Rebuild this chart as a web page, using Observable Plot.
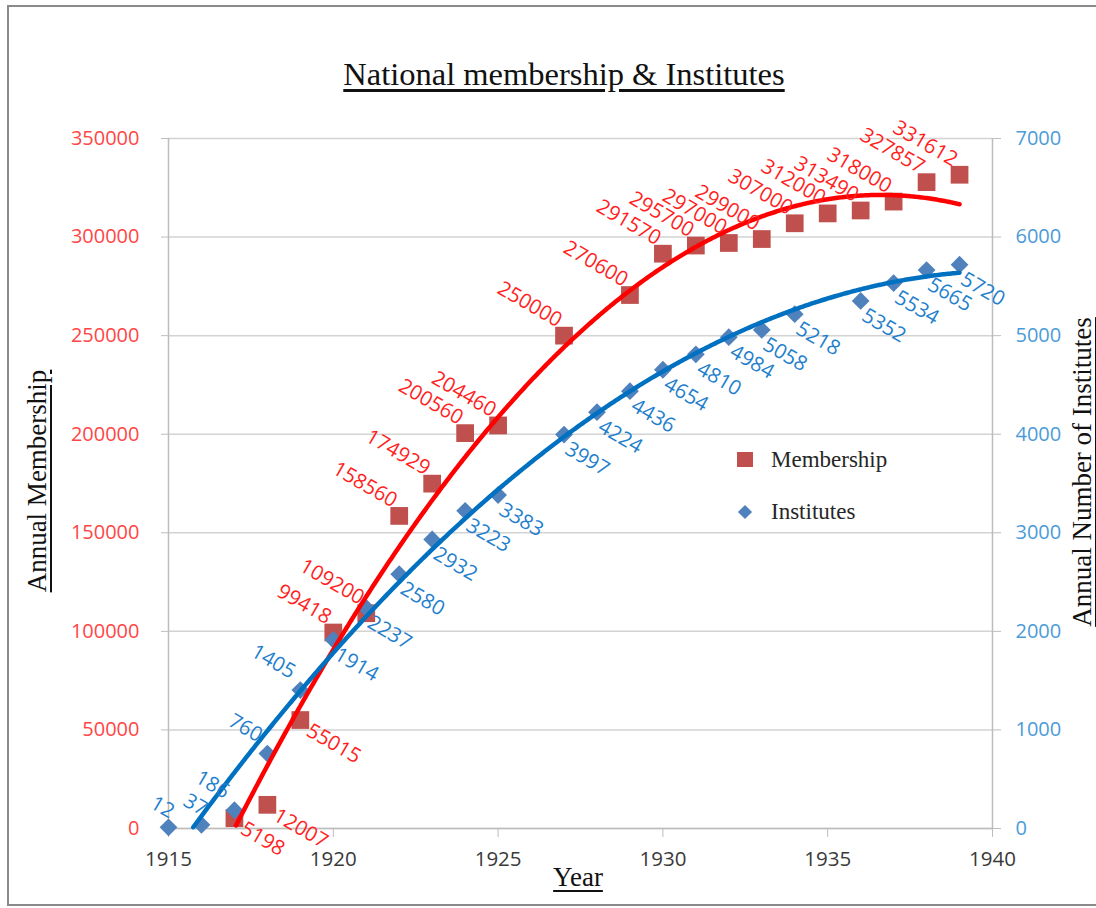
<!DOCTYPE html>
<html>
<head>
<meta charset="utf-8">
<script src="https://cdn.jsdelivr.net/npm/d3@7"></script>
<script src="https://cdn.jsdelivr.net/npm/@observablehq/plot@0.6"></script>
<style>
  body { margin: 0; background: #fff; }
  #wrap { position: relative; width: 1096px; height: 908px; overflow: hidden; background: #fff; }
  #frame { position: absolute; left: 7px; top: 5px; width: 1100px; height: 901px; box-sizing: border-box;
           border: 2px solid #8a8a8a; border-right: none; pointer-events: none; }
  #title { height: 100px; position: relative; font-family: "Liberation Serif", "Times New Roman", serif; }
  #title span { position: absolute; left: 564px; top: 54px; transform: translateX(-50%); font-size: 32.5px;
                white-space: nowrap; color: #111; text-decoration: underline; text-underline-offset: 4px; line-height: 40px; }
  .axtitle { position: absolute; font-family: "Liberation Serif", "Times New Roman", serif; font-size: 27px; color: #111;
             white-space: nowrap; text-decoration: underline; text-underline-offset: 4px; line-height: 32px; }
  .legend { position: absolute; font-family: "Liberation Serif", "Times New Roman", serif; font-size: 23px; color: #262626;
            white-space: nowrap; line-height: 28px; }
  .sym { position: absolute; }
</style>
</head>
<body>
<div id="wrap">
  <div id="title"><span>National membership &amp; Institutes</span></div>
  <div id="chart"></div>
  <div class="axtitle" id="ylab" style="left:37px; top:481px; transform: translate(-50%,-50%) rotate(-90deg);">Annual Membership</div>
  <div class="axtitle" id="ylab2" style="left:1082px; top:472px; transform: translate(-50%,-50%) rotate(-90deg);">Annual Number of Institutes</div>
  <div class="axtitle" id="xlab" style="left:578px; top:877px; transform: translate(-50%,-50%);">Year</div>
  <div class="sym" style="left:737px; top:452px; width:16px; height:15px; background:#C0504D;"></div>
  <div class="legend" style="left:771px; top:446px;">Membership</div>
  <div class="sym" style="left:740px; top:507px; width:10px; height:10px; background:#4F81BD; transform: rotate(45deg);"></div>
  <div class="legend" style="left:771px; top:498px;">Institutes</div>
  <div id="frame"></div>
</div>
<script>
// ---- data ----
const membershipYears = [1917,1918,1919,1920,1921,1922,1923,1924,1925,1927,1929,1930,1931,1932,1933,1934,1935,1936,1937,1938,1939];
const membershipValues = [5198,12007,55015,99418,109200,158560,174929,200560,204460,250000,270600,291570,295700,297000,299000,307000,312000,313490,318000,327857,331612];
const instituteYears = [1915,1916,1917,1918,1919,1920,1921,1922,1923,1924,1925,1927,1928,1929,1930,1931,1932,1933,1934,1936,1937,1938,1939];
const instituteValues = [12,37,186,760,1405,1914,2237,2580,2932,3223,3383,3997,4224,4436,4654,4810,4984,5058,5218,5352,5534,5665,5720];
const xTicks = [1915,1920,1925,1930,1935,1940];
const leftTicks = [0,50000,100000,150000,200000,250000,300000,350000];
const rightTicks = [0,1000,2000,3000,4000,5000,6000,7000];

// ---- derived ----
const ratio = leftTicks[leftTicks.length-1] / rightTicks[rightTicks.length-1];
const mData = membershipYears.map((year, i) => ({year, value: membershipValues[i]}));
const iData = instituteYears.map((year, i) => ({year, value: instituteValues[i], scaled: instituteValues[i] * ratio}));

// quadratic least-squares trendline (Excel polynomial, order 2)
function quadFit(xs, ys) {
  const mx = d3.mean(xs);
  const u = xs.map(x => x - mx);
  const s = k => d3.sum(u, v => v ** k);
  const t = k => d3.sum(u, (v, i) => (v ** k) * ys[i]);
  const A = [[s(0), s(1), s(2)], [s(1), s(2), s(3)], [s(2), s(3), s(4)]];
  const B = [t(0), t(1), t(2)];
  const det = m => m[0][0]*(m[1][1]*m[2][2]-m[1][2]*m[2][1]) - m[0][1]*(m[1][0]*m[2][2]-m[1][2]*m[2][0]) + m[0][2]*(m[1][0]*m[2][1]-m[1][1]*m[2][0]);
  const D = det(A);
  const coef = [0,1,2].map(c => det(A.map((row, r) => row.map((v, j) => j === c ? B[r] : v))) / D);
  return x => coef[0] + coef[1]*(x - mx) + coef[2]*(x - mx)**2;
}
function trend(xs, ys, scale = 1) {
  const f = quadFit(xs, ys);
  const lo = d3.min(xs), hi = d3.max(xs);
  return d3.range(lo, hi + 1e-9, 0.05).map(x => ({x, y: f(x) * scale})).filter(d => d.y >= 0);
}
const mTrend = trend(membershipYears, membershipValues);
const iTrend = trend(instituteYears, instituteValues, ratio);

const fmt = d3.format("d");
const sans = "'Open Sans', 'Noto Sans', sans-serif";
const red = "#ff1f1f", blue = "#1f7fcc";
const lab = 20.5;

const chart = Plot.plot({
  width: 1096,
  height: 808,
  marginLeft: 168,
  marginRight: 104,
  marginTop: 38,
  marginBottom: 80,
  x: {domain: [1915, 1940]},
  y: {domain: [0, 350000]},
  style: {fontFamily: sans, fontSize: "20px", background: "transparent", overflow: "visible"},
  marks: [
    Plot.gridY(leftTicks, {stroke: "#d3d3d3", strokeOpacity: 1, strokeWidth: 1.5}),
    Plot.ruleX([1915, 1940], {stroke: "#bdbdbd", strokeWidth: 1.5}),
    Plot.ruleY([0], {stroke: "#bdbdbd", strokeWidth: 1.5}),
    Plot.axisY(leftTicks, {anchor: "left", tickSize: 7, tickPadding: 22, tickFormat: fmt, stroke: "#bdbdbd", fill: "#ff4646", label: null, fontSize: 20}),
    Plot.axisY(leftTicks, {anchor: "right", tickSize: 8, tickPadding: 15, tickFormat: d => fmt(d / ratio), stroke: "#bdbdbd", fill: "#4b9bd9", label: null, fontSize: 20}),
    Plot.axisX(xTicks, {tickSize: 9, tickPadding: 14, tickFormat: fmt, stroke: "#bdbdbd", fill: "#3a3a3a", label: null, fontSize: 20.5}),
    Plot.dot(mData, {x: "year", y: "value", symbol: "square", r: 10, fill: "#C0504D"}),
    Plot.dot(iData, {x: "year", y: "scaled", symbol: "diamond2", r: 8, fill: "#4F81BD"}),
    Plot.line(mTrend, {x: "x", y: "y", stroke: "#ff0000", strokeWidth: 4.5, curve: "linear"}),
    Plot.line(iTrend, {x: "x", y: "y", stroke: "#0070c0", strokeWidth: 4.5, curve: "linear"}),
    // membership labels
    Plot.text(mData.filter(d => d.year >= 1920), {x: "year", y: "value", text: d => String(d.value), rotate: 30,
      textAnchor: "end", lineAnchor: "bottom", dx: -7, dy: -8, fill: red, fontSize: lab}),
    Plot.text(mData.filter(d => d.year < 1920), {x: "year", y: "value", text: d => String(d.value), rotate: 30,
      textAnchor: "start", lineAnchor: "top", dx: 12, dy: 2, fill: red, fontSize: lab}),
    // institute labels
    Plot.text(iData.filter(d => d.year >= 1920), {x: "year", y: "scaled", text: d => String(d.value), rotate: 30,
      textAnchor: "start", lineAnchor: "top", dx: 7, dy: 6, fill: blue, fontSize: lab}),
    Plot.text(iData.filter(d => d.year >= 1917 && d.year < 1920), {x: "year", y: "scaled", text: d => String(d.value), rotate: 30,
      textAnchor: "end", lineAnchor: "bottom", dx: -10, dy: -11, fill: blue, fontSize: lab}),
    Plot.text(iData.filter(d => d.year < 1917), {x: "year", y: "scaled", text: d => String(d.value), rotate: 30,
      textAnchor: "middle", lineAnchor: "middle", dx: -6, dy: -20, fill: blue, fontSize: lab})
  ]
});
document.getElementById("chart").appendChild(chart);
</script>
</body>
</html>
